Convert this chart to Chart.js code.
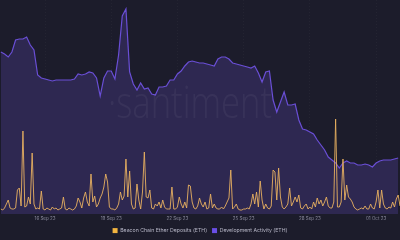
<!DOCTYPE html>
<html>
<head>
<meta charset="utf-8">
<script src="https://cdn.jsdelivr.net/npm/chart.js@4/dist/chart.umd.min.js"></script>
<style>
html,body{margin:0;padding:0;background:#1c1c2b;}
#wrap{width:400px;height:240px;position:relative;}
</style>
</head>
<body>
<div id="wrap"><canvas id="c" width="400" height="240"></canvas></div>
<script>
// Time axis: hours since 14 Sep 23 00:00
const tickHours = [48, 120, 192, 264, 336, 408];
const tickLabels = ["16 Sep 23", "19 Sep 23", "22 Sep 23", "25 Sep 23", "28 Sep 23", "01 Oct 23"];

// Beacon Chain Ether Deposits (ETH), one value every 2 hours
const depositStepHours = 2;
const deposits = [
  3,2,4,8,12,4,3,3,4,22, 24,6,81,5,6,15,8,59,8,3,
  4,3,21,3,2,4,3,2,5,3, 4,2,3,4,15,3,2,4,3,2,
  3,6,14,10,4,14,20,10,6,38, 10,16,5,8,14,18,25,38,30,5,
  3,3,2,4,8,20,12,16,53,15, 41,8,3,4,28,12,3,20,60,15,
  14,22,4,3,8,6,10,4,12,5, 3,3,3,25,3,3,5,15,8,4,
  10,4,27,26,10,4,3,6,14,8, 5,10,3,4,18,4,8,4,3,3,
  5,3,6,10,14,42,3,5,8,3, 2,2,3,3,4,3,8,18,8,20,
  5,31,12,3,8,4,3,6,42,40, 12,44,15,5,3,5,8,24,6,10,
  15,10,17,4,3,6,8,3,5,3, 10,5,14,8,12,6,10,15,6,4,
  4,10,93,5,5,10,53,12,27,15, 13,10,5,3,2,3,4,3,6,3,
  3,8,4,3,10,22,4,22,8,4, 3,5,4,10,5,13,17,6
];

// Development Activity (ETH), one value every 4 hours
const devStepHours = 4;
const devActivity = [
  162,160,157,162,174,175,175,177,169,164,
  139,136,135,134,133,134,134,134,134,134,
  135,140,139,140,142,141,136,118,136,143,
  143,135,159,198,205,142,130,124,131,125,
  126,120,119,127,127,128,134,134,140,143,
  148,152,153,152,151,151,150,149,148,155,
  157,157,155,151,150,149,148,147,146,148,
  141,132,142,143,114,102,112,122,109,109,
  110,94,85,84,82,80,74,69,64,57,
  54,51,46,51,53,51,51,49,49,50,
  49,47,51,53,54,54,54,55,56
];

const depositPts = deposits.map((v, i) => ({x: i * depositStepHours, y: v}));
const devPts = devActivity.map((v, i) => ({x: i * devStepHours, y: v}));

const watermark = {
  id: 'watermark',
  afterDatasetsDraw(chart) {
    const ctx = chart.ctx;
    ctx.save();
    ctx.fillStyle = 'rgba(255,255,255,0.05)';
    ctx.textBaseline = 'alphabetic';
    ctx.font = '300 44px "Open Sans"';
    const txt = '·santiment';
    const w = ctx.measureText(txt).width;
    const target = 164;
    ctx.translate(108, 118);
    ctx.scale(target / w, 1);
    ctx.fillText(txt, 0, 0);
    ctx.restore();
  }
};

new Chart(document.getElementById('c'), {
  type: 'line',
  data: {
    datasets: [
      {
        label: 'Beacon Chain Ether Deposits (ETH)',
        data: depositPts,
        yAxisID: 'yDep',
        borderColor: 'rgba(232,176,96,0.9)',
        backgroundColor: '#f2b440',
        borderWidth: 1,
        pointRadius: 0,
        tension: 0,
        fill: false
      },
      {
        label: 'Development Activity (ETH)',
        data: devPts,
        yAxisID: 'yDev',
        borderColor: '#6a4fd6',
        backgroundColor: '#2e2851',
        borderWidth: 1.2,
        pointRadius: 0,
        tension: 0,
        fill: 'origin'
      }
    ]
  },
  options: {
    responsive: false,
    animation: false,
    layout: {padding: 0},
    plugins: {
      legend: {
        position: 'bottom',
        maxHeight: 17,
        labels: {
          color: '#b8b8c8',
          font: {family: 'Inter', size: 5.2},
          boxWidth: 5,
          boxHeight: 5,
          padding: 5,
          generateLabels(chart) {
            return chart.data.datasets.map((d, i) => ({
              text: d.label,
              fillStyle: i === 0 ? '#f2b440' : '#6a4fe6',
              strokeStyle: i === 0 ? '#f2b440' : '#6a4fe6',
              lineWidth: 0,
              fontColor: '#b8b8c8',
              datasetIndex: i
            }));
          }
        }
      },
      tooltip: {enabled: false}
    },
    scales: {
      x: {
        type: 'linear',
        min: -0.95,
        max: 434,
        afterBuildTicks(scale) {
          scale.ticks = tickHours.map(v => ({value: v}));
        },
        afterFit(scale) { scale.height = 9; },
        ticks: {
          autoSkip: false,
          maxRotation: 0,
          color: '#8a8a9c',
          font: {family: 'Inter', size: 4.5},
          padding: 2,
          callback(v) {
            const k = tickHours.indexOf(v);
            return k >= 0 ? tickLabels[k] : '';
          }
        },
        grid: {
          color: 'rgba(255,255,255,0.035)',
          drawTicks: false
        },
        border: {display: false, dash: [1, 2]}
      },
      yDev: {
        display: false,
        min: 0,
        max: 214
      },
      yDep: {
        display: false,
        min: -2,
        max: 212
      }
    }
  },
  plugins: [watermark]
});
</script>
</body>
</html>
